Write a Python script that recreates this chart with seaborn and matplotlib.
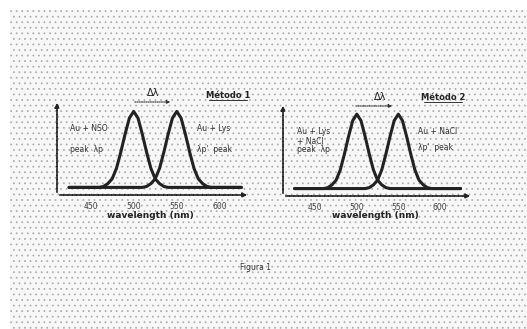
import matplotlib
matplotlib.use("Agg")
from matplotlib import pyplot as plt
from matplotlib.patches import Rectangle
import pandas as pd
import seaborn as sns

# wavelength samples (nm) and the two absorption bands
wavelength = [425, 430, 435, 440, 445, 450, 455, 460, 465, 470, 475, 480, 485,
              490, 495, 500, 505, 510, 515, 520, 525, 530, 535, 540, 545, 550,
              555, 560, 565, 570, 575, 580, 585, 590, 595, 600, 605, 610, 615,
              620, 625]
band_low = [0.08, 0.08, 0.08, 0.08, 0.08, 0.08, 0.08, 0.08, 0.09, 0.12, 0.17,
            0.28, 0.45, 0.64, 0.81, 0.88, 0.81, 0.64, 0.45, 0.28, 0.17, 0.12,
            0.09, 0.08, 0.08, 0.08, 0.08, 0.08, 0.08, 0.08, 0.08, 0.08, 0.08,
            0.08, 0.08, 0.08, 0.08, 0.08, 0.08, 0.08, 0.08]
band_high = [0.08, 0.08, 0.08, 0.08, 0.08, 0.08, 0.08, 0.08, 0.08, 0.08, 0.08,
             0.08, 0.08, 0.08, 0.08, 0.08, 0.08, 0.08, 0.09, 0.12, 0.17, 0.28,
             0.45, 0.64, 0.81, 0.88, 0.81, 0.64, 0.45, 0.28, 0.17, 0.12, 0.09,
             0.08, 0.08, 0.08, 0.08, 0.08, 0.08, 0.08, 0.08]
tick_values = [450, 500, 550, 600]
tick_labels = ["450", "500", "550", "600"]

W, H = 527, 329


def px(x, y):
    return x / W, 1 - y / H


sns.set_style("white")
fig = plt.figure(figsize=(5.27, 3.29), dpi=100)
fig.patch.set_facecolor("white")
plt.rcParams["hatch.linewidth"] = 0.5
bg = Rectangle(px(10, 329), (W - 10) / W, (H - 10) / H, transform=fig.transFigure,
               facecolor="#f7f7f7", edgecolor="#a8a8a8", hatch="...", lw=0, zorder=-5)
fig.patches.append(bg)

panels = [
    dict(left=57, right=250, top=100, bottom=195, xlim=(411, 635), name="Método 1",
         dl=(153, 93), darrow=(132, 173, 102),
         left_txt=["Au + NSO", "peak  λp"], left_pos=(70, 128, 22),
         right_txt=["Au + Lys", "λp'  peak"], right_pos=(197, 128, 22),
         meth=(228, 95), xl=(150, 215)),
    dict(left=283, right=473, top=103, bottom=196, xlim=(411, 640), name="Método 2",
         dl=(380, 97), darrow=(353, 395, 106),
         left_txt=["Au + Lys", "+ NaCl", "peak  λp"], left_pos=(297, 132, 9),
         right_txt=["Au + NaCl", "λp'  peak"], right_pos=(418, 132, 16),
         meth=(443, 97), xl=(375, 215)),
]

df = pd.DataFrame({"wavelength": wavelength + wavelength,
                   "abs": band_low + band_high,
                   "band": ["low"] * len(wavelength) + ["high"] * len(wavelength)})

for p in panels:
    x0, y1 = px(p["left"], p["bottom"])
    x1, y0 = px(p["right"], p["top"])
    ax = fig.add_axes([x0, y1, x1 - x0, y0 - y1])
    ax.patch.set_alpha(0)
    sns.lineplot(data=df, x="wavelength", y="abs", units="band", estimator=None,
                 color="#222222", lw=2.2, ax=ax, legend=False)
    ax.set_xlim(*p["xlim"])
    ax.set_ylim(0, 1.0)
    ax.set_xticks(tick_values)
    ax.set_xticklabels(tick_labels, fontsize=5.5, color="#444444")
    ax.set_yticks([])
    ax.tick_params(axis="x", length=2, pad=3)
    ax.set_xlabel("")
    ax.set_ylabel("")
    for s in ax.spines.values():
        s.set_visible(False)
    # axis arrows
    ax.annotate("", xy=(1.0, 0), xytext=(0, 0), xycoords="axes fraction",
                arrowprops=dict(arrowstyle="-|>", color="#222222", lw=1.2,
                                linestyle=(0, (2, 0.6)), mutation_scale=6))
    ax.annotate("", xy=(0, 1.0), xytext=(0, 0), xycoords="axes fraction",
                arrowprops=dict(arrowstyle="-|>", color="#222222", lw=1.2,
                                linestyle=(0, (2, 0.6)), mutation_scale=6))

    fig.text(*px(*p["dl"]), "Δλ", fontsize=7, ha="center", va="center", color="#222222")
    a, b, yy = p["darrow"]
    fig.add_artist(matplotlib.patches.FancyArrowPatch(
        px(a, yy), px(b, yy), transform=fig.transFigure, arrowstyle="-|>",
        mutation_scale=5, lw=0.8, linestyle=(0, (1, 1)), color="#333333"))
    fig.text(*px(*p["meth"]), p["name"], fontsize=6, ha="center", va="center",
             color="#222222", fontweight="bold")
    mx, my = p["meth"]
    fig.add_artist(plt.Line2D([px(mx - 19, 0)[0], px(mx + 19, 0)[0]],
                              [px(0, my + 5)[1]] * 2, color="#333333", lw=0.7))
    lx, ly, dy = p["left_pos"]
    for i, t in enumerate(p["left_txt"]):
        fig.text(*px(lx, ly + i * dy), t, fontsize=5.5, ha="left", va="center", color="#333333")
    rx, ry, dy = p["right_pos"]
    for i, t in enumerate(p["right_txt"]):
        fig.text(*px(rx, ry + i * dy), t, fontsize=5.5, ha="left", va="center", color="#333333")
    fig.text(*px(*p["xl"]), "wavelength (nm)", fontsize=6.5, ha="center", va="center",
             color="#222222", fontweight="bold")

fig.text(*px(255, 268), "Figura 1", fontsize=5.5, ha="center", va="center", color="#333333")

fig.savefig("out.png", dpi=100)
